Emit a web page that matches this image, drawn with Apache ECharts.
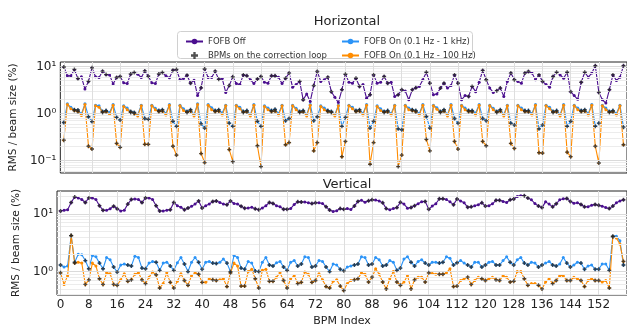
<!DOCTYPE html>
<html>
<head>
<meta charset="utf-8">
<script src="https://cdn.jsdelivr.net/npm/echarts@6/dist/echarts.min.js"></script>
<style>
  html, body { margin: 0; padding: 0; background: #fff; }
  #chart { width: 627px; height: 328px; }
</style>
</head>
<body>
<div id="chart"></div>
<script>
// BPM index ticks and the BPMs used by the correction loop
const bpmTicks = [0, 8, 16, 24, 32, 40, 48, 56, 64, 72, 80, 88, 96, 104, 112, 120, 128, 136, 144, 152];
const loopBpms = [0, 3, 4, 7, 8, 11, 12, 15, 16, 19, 20, 23, 24, 27, 28, 31, 32, 35, 36, 39,
  40, 43, 44, 47, 48, 51, 52, 55, 56, 59, 60, 63, 64, 67, 68, 71, 72, 75, 76, 79,
  80, 83, 84, 87, 88, 91, 92, 95, 96, 99, 100, 103, 104, 107, 108, 111, 112, 115, 116, 119,
  120, 123, 124, 127, 128, 131, 132, 135, 136, 139, 140, 143, 144, 147, 148, 151, 152, 155, 156, 159];

// Horizontal plane, RMS / beam size (%)
const hOff = [
  9.7, 6.3, 6.3, 8.6, 5.5, 6.0, 3.3, 4.8, 9.3, 6.0,
  5.8, 7.9, 6.7, 6.6, 4.2, 5.8, 6.1, 4.5, 4.3, 6.9,
  7.4, 6.8, 5.8, 8.0, 6.2, 4.5, 4.3, 6.9, 7.4, 6.3,
  5.7, 8.3, 8.6, 5.2, 5.5, 6.5, 4.4, 5.1, 2.4, 3.5,
  8.8, 5.8, 5.8, 7.9, 5.3, 5.5, 2.8, 3.9, 6.0, 4.3,
  4.1, 6.6, 6.3, 5.2, 4.3, 5.4, 6.1, 4.6, 4.4, 6.3,
  6.3, 5.9, 4.3, 5.6, 7.2, 3.6, 4.1, 4.8, 1.95, 2.6,
  1.8, 3.9, 7.8, 4.8, 5.2, 5.9, 2.9, 2.2, 1.7, 3.2,
  6.8, 4.6, 4.4, 5.6, 3.75, 4.1, 2.1, 2.5, 6.6, 4.4,
  4.6, 6.1, 4.4, 4.6, 2.3, 2.5, 3.2, 3.0, 1.95, 3.2,
  3.5, 3.75, 5.2, 7.5, 4.4, 2.5, 2.6, 3.45, 4.4, 3.45,
  3.9, 6.6, 4.4, 1.95, 2.4, 2.3, 3.75, 2.9, 4.6, 8.2,
  5.2, 3.45, 2.8, 3.05, 3.45, 2.3, 4.8, 7.2, 5.2, 4.8,
  4.4, 7.2, 7.8, 7.2, 5.2, 6.6, 4.8, 4.1, 3.6, 6.1,
  7.5, 6.6, 5.6, 7.5, 2.9, 2.4, 2.0, 4.6, 7.5, 5.9,
  7.2, 10.3, 2.8, 1.95, 1.66, 3.2, 6.6, 5.0, 5.9, 10.3
];
const hOn1k = [
  0.64, 1.60, 1.35, 1.20, 1.18, 0.98, 1.60, 0.85,
  0.67, 1.50, 1.45, 1.10, 1.15, 1.05, 1.55, 0.82,
  0.72, 1.45, 1.30, 1.10, 1.05, 0.95, 1.50, 0.78,
  0.75, 1.50, 1.28, 1.15, 1.20, 1.00, 1.55, 0.68,
  0.53, 1.50, 1.25, 1.10, 1.20, 0.95, 1.60, 0.60,
  0.49, 1.55, 1.32, 1.15, 1.20, 1.02, 1.50, 0.62,
  0.53, 1.50, 1.35, 1.10, 1.15, 0.95, 1.55, 0.68,
  0.53, 1.45, 1.30, 1.15, 1.22, 1.00, 1.50, 0.70,
  0.78, 1.50, 1.28, 1.10, 1.15, 0.95, 1.55, 0.70,
  0.85, 1.45, 1.30, 1.15, 1.10, 0.95, 1.50, 0.53,
  0.82, 1.50, 1.35, 1.15, 1.20, 1.00, 1.55, 0.49,
  0.68, 1.45, 1.25, 1.10, 1.15, 1.00, 1.50, 0.47,
  0.45, 1.50, 1.30, 1.20, 1.15, 1.00, 1.55, 0.86,
  0.49, 1.50, 1.32, 1.10, 1.20, 0.95, 1.55, 0.78,
  0.62, 1.50, 1.30, 1.15, 1.15, 1.02, 1.55, 0.78,
  0.70, 1.50, 1.28, 1.10, 1.20, 0.95, 1.50, 0.62,
  0.57, 1.50, 1.30, 1.15, 1.15, 1.00, 1.55, 0.47,
  0.57, 1.50, 1.35, 1.10, 1.15, 0.95, 1.55, 0.53,
  0.68, 1.50, 1.30, 1.15, 1.20, 1.00, 1.55, 0.53,
  0.62, 1.50, 1.30, 1.10, 1.15, 1.00, 1.50, 0.51
];
const hOn100 = [
  0.27, 1.55, 1.25, 1.15, 1.10, 0.90, 1.55, 0.20,
  0.175, 1.45, 1.35, 1.05, 1.10, 0.95, 1.50, 0.23,
  0.19, 1.40, 1.20, 1.05, 1.00, 0.88, 1.45, 0.22,
  0.22, 1.45, 1.20, 1.10, 1.12, 0.92, 1.50, 0.20,
  0.13, 1.45, 1.15, 1.05, 1.12, 0.88, 1.55, 0.14,
  0.09, 1.50, 1.20, 1.10, 1.12, 0.92, 1.45, 0.17,
  0.094, 1.45, 1.25, 1.05, 1.08, 0.88, 1.50, 0.205,
  0.074, 1.40, 1.20, 1.10, 1.12, 0.92, 1.45, 0.215,
  0.24, 1.45, 1.20, 1.05, 1.08, 0.88, 1.50, 0.16,
  0.24, 1.40, 1.20, 1.10, 1.05, 0.88, 1.45, 0.12,
  0.254, 1.45, 1.25, 1.10, 1.12, 0.92, 1.50, 0.083,
  0.24, 1.40, 1.15, 1.05, 1.08, 0.92, 1.45, 0.074,
  0.13, 1.45, 1.20, 1.15, 1.08, 0.92, 1.50, 0.28,
  0.16, 1.45, 1.22, 1.05, 1.12, 0.88, 1.50, 0.254,
  0.174, 1.45, 1.20, 1.10, 1.08, 0.92, 1.50, 0.254,
  0.205, 1.45, 1.20, 1.05, 1.12, 0.88, 1.45, 0.23,
  0.18, 1.45, 1.20, 1.10, 1.08, 0.92, 1.50, 0.146,
  0.143, 1.45, 1.25, 1.05, 1.08, 0.88, 1.50, 0.15,
  0.12, 1.45, 1.20, 1.10, 1.12, 0.92, 1.50, 0.20,
  0.088, 1.45, 1.20, 1.05, 1.08, 0.92, 1.45, 0.215
];

// Vertical plane, RMS / beam size (%)
const vOff = [
  11.2, 11.5, 11.8, 15.7, 19.6, 18.8, 17.7, 15.7, 18.8, 18.8,
  17.7, 13.8, 11.5, 11.5, 12.2, 13.5, 12.2, 11.2, 11.5, 14.7,
  17.7, 18.1, 17.7, 15.7, 18.8, 18.8, 17.7, 13.8, 11.2, 11.2,
  11.5, 11.8, 15.7, 13.8, 13.0, 11.8, 12.6, 13.5, 14.7, 16.7,
  12.6, 13.8, 14.7, 16.3, 16.7, 15.7, 14.7, 14.4, 16.7, 15.1,
  14.7, 13.5, 12.5, 12.6, 13.0, 12.2, 11.8, 12.6, 13.8, 15.7,
  15.1, 13.8, 13.3, 12.0, 12.0, 12.3, 14.5, 16.1, 16.0, 16.0,
  15.5, 15.0, 15.5, 15.5, 15.0, 13.3, 11.6, 11.0, 11.3, 12.3,
  12.0, 12.3, 11.9, 13.6, 16.4, 17.1, 15.8, 16.8, 17.5, 17.3,
  16.7, 15.5, 12.3, 11.7, 12.3, 12.8, 15.8, 14.7, 12.5, 12.8,
  13.8, 14.9, 16.1, 16.4, 12.0, 13.6, 14.9, 18.2, 18.2, 17.6,
  16.1, 14.4, 18.0, 16.7, 15.5, 13.0, 13.2, 13.8, 14.4, 15.5,
  13.6, 13.8, 14.9, 17.1, 17.1, 16.4, 15.7, 17.5, 18.0, 20.0,
  20.6, 20.6, 18.7, 17.5, 15.0, 13.6, 12.8, 16.1, 14.7, 13.2,
  14.9, 17.5, 18.2, 18.4, 16.4, 15.2, 15.5, 14.5, 13.2, 13.3,
  14.0, 14.5, 14.0, 13.5, 12.8, 12.3, 13.6, 15.5, 16.7, 17.5
];
const vOn1k = [
  1.30, 1.20, 1.25, 4.20, 1.45, 2.00, 1.95, 1.55, 1.12, 1.90,
  1.80, 1.40, 1.12, 1.75, 1.60, 1.20, 0.98, 1.30, 1.35, 1.30,
  1.25, 1.85, 1.75, 1.15, 1.12, 1.40, 1.50, 1.45, 1.05, 1.40,
  1.45, 1.25, 1.05, 1.42, 1.75, 1.35, 1.00, 1.45, 1.75, 1.45,
  1.10, 1.45, 1.50, 1.40, 1.38, 1.45, 1.65, 1.40, 1.00, 1.90,
  1.75, 1.15, 1.10, 1.50, 1.40, 1.02, 1.00, 1.45, 1.75, 1.30,
  1.25, 1.42, 1.50, 1.20, 1.05, 1.45, 1.55, 1.25, 1.35, 1.80,
  1.75, 1.20, 1.25, 1.55, 1.50, 1.20, 1.00, 1.35, 1.30, 1.10,
  1.03, 1.20, 1.25, 1.30, 1.35, 1.80, 1.75, 1.30, 1.35, 1.75,
  1.60, 1.25, 1.30, 1.55, 1.45, 1.05, 1.15, 1.65, 1.80, 1.45,
  1.25, 1.50, 1.60, 1.40, 1.30, 1.45, 1.45, 1.40, 1.45, 1.80,
  1.70, 1.30, 1.42, 1.55, 1.40, 1.30, 1.20, 1.45, 1.45, 1.20,
  1.30, 1.45, 1.50, 1.30, 1.30, 1.55, 1.80, 1.45, 1.30, 1.60,
  1.75, 1.40, 1.30, 1.45, 1.40, 1.20, 1.30, 1.40, 1.50, 1.30,
  1.25, 1.35, 1.75, 1.40, 1.20, 1.30, 1.45, 1.40, 1.10, 1.25,
  1.30, 1.10, 1.10, 1.35, 1.35, 1.05, 4.10, 4.10, 3.40, 1.30
];
const vOn100 = [
  0.95, 0.60, 0.85, 4.20, 1.40, 1.45, 1.40, 0.60, 0.72, 1.40,
  1.25, 0.75, 0.60, 0.95, 0.92, 0.60, 0.58, 0.72, 0.92, 0.68,
  0.72, 0.90, 0.95, 0.72, 0.62, 0.80, 0.98, 0.88, 0.52, 0.62,
  0.95, 0.65, 0.52, 0.68, 0.92, 0.70, 0.58, 0.85, 0.95, 0.90,
  0.65, 0.65, 0.75, 0.72, 0.70, 0.72, 0.75, 0.55, 0.95, 1.40,
  1.25, 0.56, 0.56, 1.00, 1.10, 0.75, 0.52, 1.05, 1.10, 0.68,
  0.68, 0.80, 0.95, 0.70, 0.52, 0.75, 0.85, 0.62, 0.65, 0.98,
  0.90, 0.65, 0.70, 0.92, 0.72, 0.55, 0.52, 0.68, 0.72, 0.56,
  0.47, 0.62, 0.70, 0.72, 0.75, 0.95, 0.90, 0.66, 0.80, 1.12,
  0.90, 0.66, 0.50, 0.75, 1.00, 0.66, 0.58, 0.66, 0.85, 0.50,
  0.72, 0.80, 0.80, 0.66, 0.95, 0.93, 0.90, 0.90, 0.90, 0.95,
  1.12, 0.55, 0.56, 0.70, 0.75, 0.80, 0.60, 0.70, 0.80, 0.75,
  0.70, 0.75, 0.80, 0.72, 0.70, 0.85, 0.80, 0.66, 0.68, 1.00,
  1.00, 0.75, 0.58, 0.62, 0.62, 0.58, 0.50, 0.66, 0.75, 0.62,
  0.70, 0.85, 0.85, 0.70, 0.70, 0.80, 0.75, 0.70, 0.55, 0.70,
  0.75, 0.70, 0.70, 0.66, 0.70, 0.52, 4.00, 3.80, 3.00, 1.50
];

// log grid values
const majorGrid = [0.1, 1, 10];
const minorGrid = [0.06, 0.07, 0.08, 0.09, 0.2, 0.3, 0.4, 0.5, 0.6, 0.7, 0.8, 0.9,
  2, 3, 4, 5, 6, 7, 8, 9, 20];

const FONT = 'DejaVu Sans';
const C = { off: '#4b0f8f', on1k: '#2a93f7', on100: '#ff8c00', loop: '#262626' };
const plus = 'path://M1,0H2V1H3V2H2V3H1V2H0V1H1Z';
const panels = [
  { off: hOff, on1k: hOn1k, on100: hOn100, min: 0.054, max: 12.4, top: 62 },
  { off: vOff, on1k: vOn1k, on100: vOn100, min: 0.393, max: 24.8, top: 191 }
];

const sup = { '-': '\u207B', '0': '\u2070', '1': '\u00B9', '2': '\u00B2', '3': '\u00B3' };
function logLabel(v) {
  const e = Math.round(Math.log10(v));
  if (Math.abs(Math.log10(v) - e) > 1e-6) return '';
  return '10' + String(e).split('').map(c => sup[c]).join('');
}

const pairs = arr => arr.map((v, i) => [i, v]);

const chart = echarts.init(document.getElementById('chart'), null, { renderer: 'canvas' });

const grid = panels.map(p => ({
  left: 57, right: 0, top: p.top, height: 111,
  show: true, borderColor: '#222', borderWidth: 1, backgroundColor: 'transparent'
}));

const xAxis = panels.map((p, g) => ({
  type: 'value', gridIndex: g, min: -1, max: 160,
  axisLine: { show: false }, splitLine: { show: false },
  axisTick: { show: true, inside: true, length: 4, customValues: bpmTicks, lineStyle: { color: '#222' } },
  axisLabel: { show: g === 1, customValues: bpmTicks, fontSize: 12, color: '#222', margin: 4, fontFamily: FONT },
  name: g === 1 ? 'BPM Index' : '', nameLocation: 'middle', nameGap: 21,
  nameTextStyle: { fontSize: 11, color: '#222', fontFamily: FONT }
}));

const yAxis = [];
panels.forEach((p, g) => {
  const majors = majorGrid.filter(v => v > p.min && v < p.max);
  yAxis.push({
    type: 'log', logBase: 10, gridIndex: g, min: p.min, max: p.max,
    axisLine: { show: false }, splitLine: { show: false },
    axisTick: { show: true, inside: true, length: 4, customValues: majors, lineStyle: { color: '#222' } },
    axisLabel: { customValues: majors, formatter: logLabel, fontSize: 12, color: '#222', margin: 4, fontFamily: FONT },
    name: 'RMS / beam size (%)', nameLocation: 'middle', nameGap: 34, nameRotate: 90,
    nameTextStyle: { fontSize: 10.5, color: '#222', fontFamily: FONT }
  });
});
panels.forEach((p, g) => {
  yAxis.push({
    type: 'log', logBase: 10, gridIndex: g, min: p.min, max: p.max,
    axisLine: { show: false }, splitLine: { show: false }, axisLabel: { show: false },
    axisTick: { show: true, inside: true, length: 2, customValues: minorGrid.filter(v => v > p.min && v < p.max), lineStyle: { color: '#222' } }
  });
});

const series = [];
panels.forEach((p, g) => {
  const lines = [
    ...minorGrid.filter(v => v > p.min && v < p.max).map(v => ({ yAxis: v, lineStyle: { color: '#ececec' } })),
    ...majorGrid.filter(v => v > p.min && v < p.max).map(v => ({ yAxis: v, lineStyle: { color: '#dadada' } })),
    ...bpmTicks.map(v => ({ xAxis: v, lineStyle: { color: '#dedede' } }))
  ];
  series.push({
    type: 'line', xAxisIndex: g, yAxisIndex: g, data: [], silent: true, z: 1,
    markLine: { silent: true, symbol: ['none', 'none'], label: { show: false }, animation: false,
      lineStyle: { type: 'solid', width: 1 }, emphasis: { disabled: true }, data: lines }
  });
  const mk = (name, arr, color, z) => ({
    name, type: 'line', xAxisIndex: g, yAxisIndex: g, data: pairs(arr), z,
    symbol: 'circle', symbolSize: 3, showSymbol: true, showAllSymbol: true,
    lineStyle: { width: 1.1, color }, itemStyle: { color }, animation: false
  });
  series.push(mk('FOFB Off', p.off, C.off, 2));
  series.push(mk('FOFB On (0.1 Hz - 1 kHz)', p.on1k, C.on1k, 3));
  series.push(mk('FOFB On (0.1 Hz - 100 Hz)', p.on100, C.on100, 4));
  const loopPts = [];
  [p.off, p.on1k, p.on100].forEach(arr => loopBpms.forEach(i => loopPts.push([i, arr[i]])));
  series.push({
    name: 'BPMs on the correction loop', type: 'scatter', xAxisIndex: g, yAxisIndex: g,
    data: loopPts, symbol: plus, symbolSize: 4, itemStyle: { color: C.loop }, z: 5, animation: false
  });
});

const legendText = { fontSize: 8.5, color: '#333', fontFamily: FONT };
const option = {
  animation: false,
  textStyle: { fontFamily: FONT },
  title: [
    { text: 'Horizontal', left: 342, top: 10, textAlign: 'center',
      textStyle: { fontSize: 13, fontWeight: 'normal', color: '#222', fontFamily: FONT } },
    { text: 'Vertical', left: 342, top: 173, textAlign: 'center',
      textStyle: { fontSize: 13, fontWeight: 'normal', color: '#222', fontFamily: FONT } }
  ],
  graphic: [{
    type: 'rect', left: 177, top: 31, z: 0,
    shape: { width: 295, height: 27, r: 3 },
    style: { fill: 'rgba(255,255,255,0.8)', stroke: '#d0d0d0', lineWidth: 1 }
  }],
  legend: [
    { data: ['FOFB Off', 'BPMs on the correction loop'], orient: 'vertical', left: 180, top: 32,
      itemWidth: 17, itemHeight: 7, itemGap: 5, textStyle: legendText, selectedMode: false },
    { data: ['FOFB On (0.1 Hz - 1 kHz)', 'FOFB On (0.1 Hz - 100 Hz)'], orient: 'vertical', left: 336, top: 32,
      itemWidth: 17, itemHeight: 7, itemGap: 5, textStyle: legendText, selectedMode: false }
  ],
  grid, xAxis, yAxis, series
};
chart.setOption(option);
</script>
</body>
</html>
